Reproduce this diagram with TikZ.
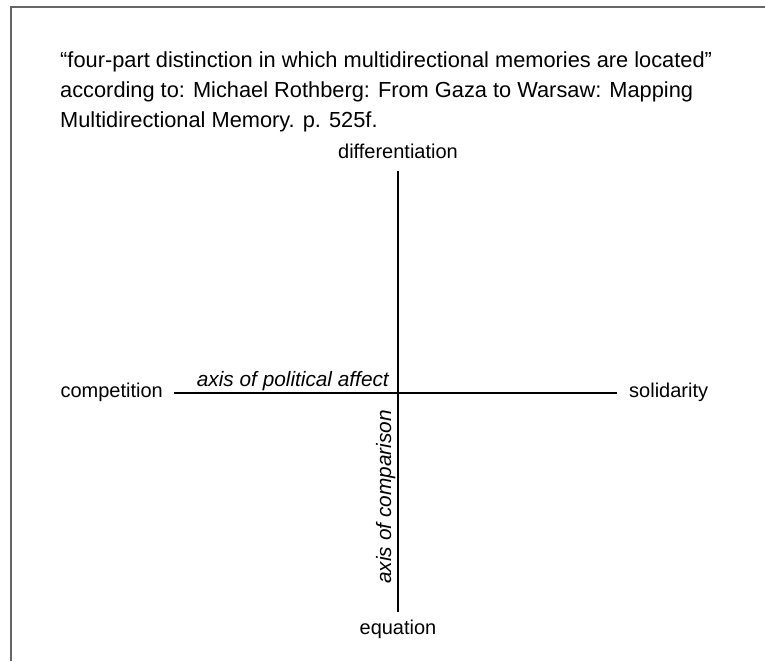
\documentclass[tikz,border=0pt]{standalone}
\usepackage{fontspec}
\setmainfont{Liberation Sans}
\usetikzlibrary{positioning}

\tikzset{
  axisline/.style={black, line width=2pt},
  axislabel/.style={inner sep=0pt, font=\fontsize{20.8}{24}\selectfont\itshape},
  pole/.style={inner sep=0pt}
}

\begin{document}
\begin{tikzpicture}[x=1pt,y=1pt,font=\fontsize{20}{29}\selectfont]
\useasboundingbox (0,0) rectangle (765,661);

% frame
\draw[black!60, line width=2pt] (11,0) -- (11,654) -- (765,654);

% title
\node[anchor=north west, align=left, inner sep=0pt,
      font=\fontsize{21.8}{30}\selectfont] (title) at (60,609)
  {``four-part distinction in which multidirectional memories are located''\\
   according to: Michael Rothberg: From Gaza to Warsaw: Mapping\\
   Multidirectional Memory. p. 525f.};

% axis ends
\coordinate (west) at (174,268);
\coordinate (east) at (617,268);
\coordinate (north) at (398,490);
\coordinate (south) at (398,49);

\node[pole, anchor=base] (differentiation) at (398,502) {differentiation};
\node[pole, anchor=base] (equation) at (398,27) {equation};
\node[pole, anchor=base east] (competition) at (163,263) {competition};
\node[pole, anchor=base west] (solidarity) at (629,263) {solidarity};

\draw[axisline] (west) -- (east);
\draw[axisline] (north) -- (south);

\node[axislabel, anchor=base east] (affect) at (389,274) {axis of political affect};
\node[axislabel, anchor=base east, rotate=90] (comparison) at (391,251) {axis of comparison};
\end{tikzpicture}
\end{document}
